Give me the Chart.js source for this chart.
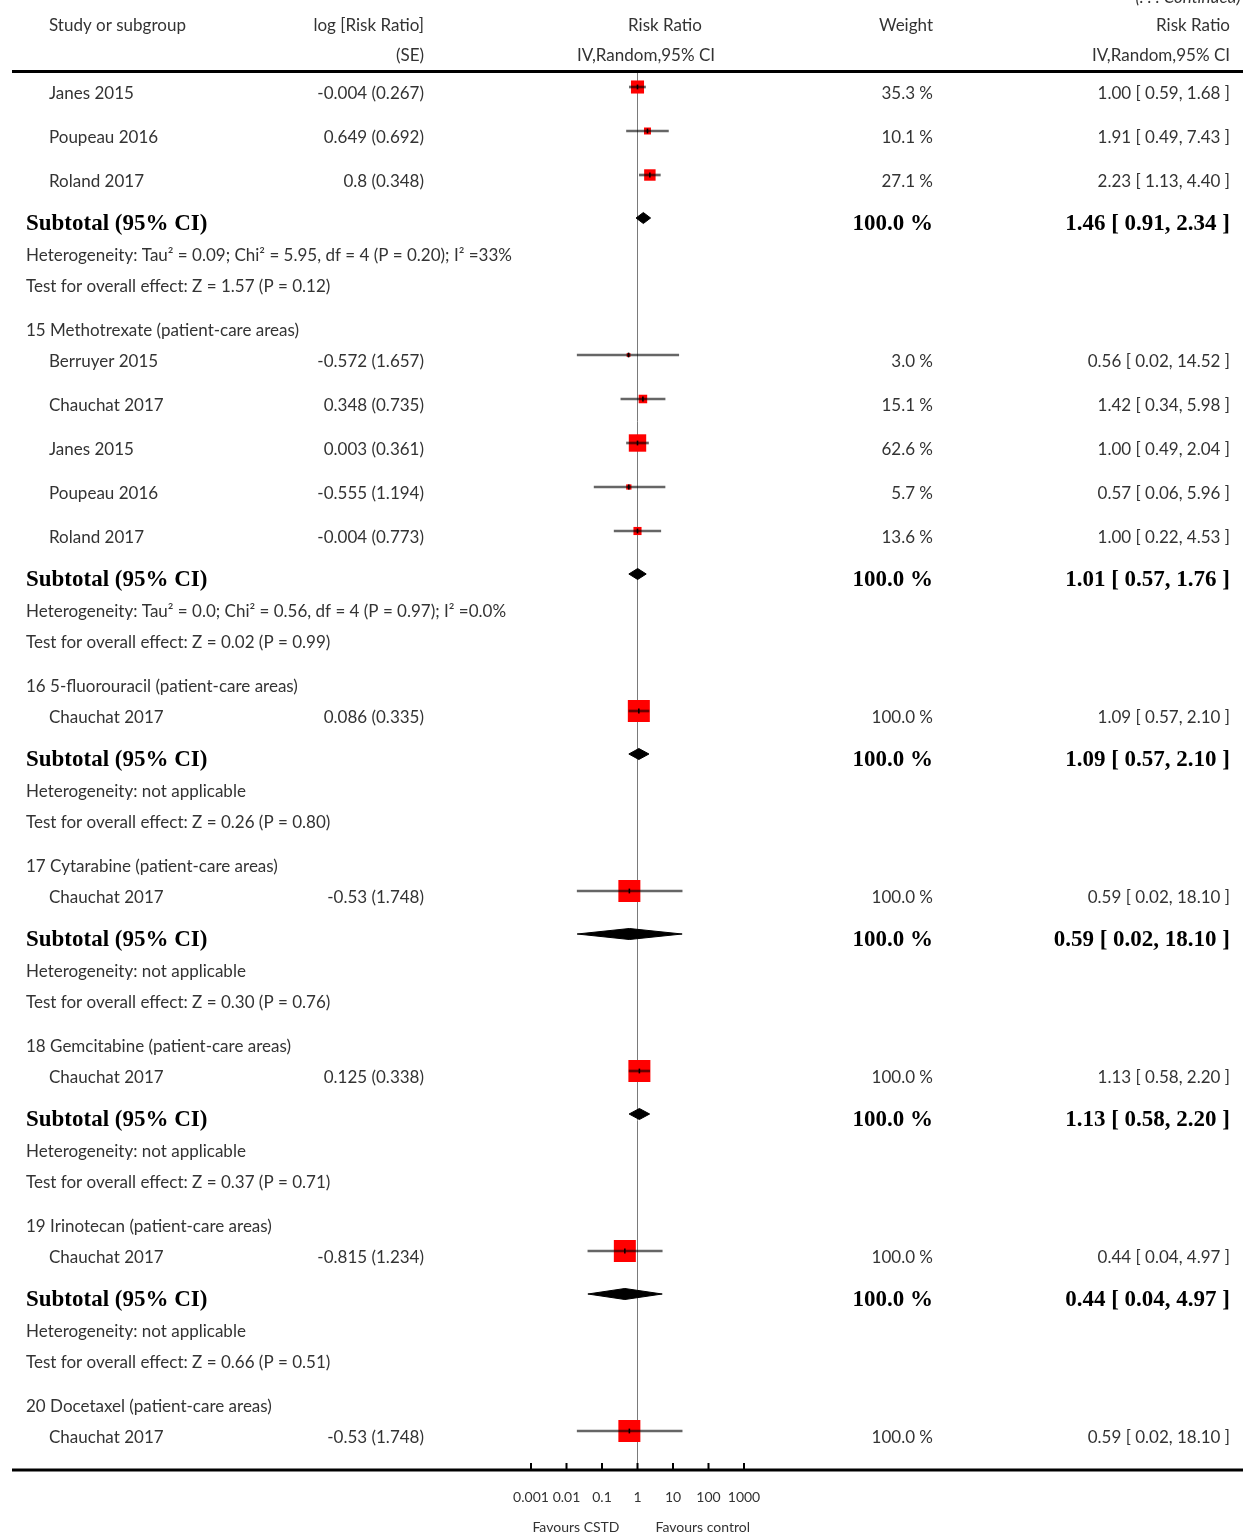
<!DOCTYPE html>
<html>
<head>
<meta charset="utf-8">
<script src="https://cdn.jsdelivr.net/npm/chart.js@4.4.1/dist/chart.umd.min.js"></script>
<style>
  html, body { margin: 0; padding: 0; background: #fff; }
  #wrap { position: relative; width: 1243px; height: 1536px; }
</style>
</head>
<body>
<div id="wrap"><canvas id="forest"></canvas></div>
<script>
// subgroups as printed (the first one continues from the previous page, so no heading)
const groupNames = [
    '',
    '15 Methotrexate (patient-care areas)',
    '16 5-fluorouracil (patient-care areas)',
    '17 Cytarabine (patient-care areas)',
    '18 Gemcitabine (patient-care areas)',
    '19 Irinotecan (patient-care areas)',
    '20 Docetaxel (patient-care areas)'
];

// studies
const studyNames = ['Janes 2015', 'Poupeau 2016', 'Roland 2017',
    'Berruyer 2015', 'Chauchat 2017', 'Janes 2015', 'Poupeau 2016', 'Roland 2017',
    'Chauchat 2017', 'Chauchat 2017', 'Chauchat 2017', 'Chauchat 2017', 'Chauchat 2017'];
const studyGroup = [0, 0, 0, 1, 1, 1, 1, 1, 2, 3, 4, 5, 6];
const logRR = [-0.004, 0.649, 0.8, -0.572, 0.348, 0.003, -0.555, -0.004, 0.086, -0.53, 0.125, -0.815, -0.53];
const seLog = [0.267, 0.692, 0.348, 1.657, 0.735, 0.361, 1.194, 0.773, 0.335, 1.748, 0.338, 1.234, 1.748];
const weights = [35.3, 10.1, 27.1, 3.0, 15.1, 62.6, 5.7, 13.6, 100.0, 100.0, 100.0, 100.0, 100.0];
const rrEst = [1.00, 1.91, 2.23, 0.56, 1.42, 1.00, 0.57, 1.00, 1.09, 0.59, 1.13, 0.44, 0.59];
const rrLow = [0.59, 0.49, 1.13, 0.02, 0.34, 0.49, 0.06, 0.22, 0.57, 0.02, 0.58, 0.04, 0.02];
const rrHigh = [1.68, 7.43, 4.40, 14.52, 5.98, 2.04, 5.96, 4.53, 2.10, 18.10, 2.20, 4.97, 18.10];

// subtotals (group 20 is cut off before its subtotal)
const subEst = [1.46, 1.01, 1.09, 0.59, 1.13, 0.44];
const subLow = [0.91, 0.57, 0.57, 0.02, 0.58, 0.04];
const subHigh = [2.34, 1.76, 2.10, 18.10, 2.20, 4.97];
const hetText = [
    'Heterogeneity: Tau\u00B2 = 0.09; Chi\u00B2 = 5.95, df = 4 (P = 0.20); I\u00B2 =33%',
    'Heterogeneity: Tau\u00B2 = 0.0; Chi\u00B2 = 0.56, df = 4 (P = 0.97); I\u00B2 =0.0%',
    'Heterogeneity: not applicable',
    'Heterogeneity: not applicable',
    'Heterogeneity: not applicable',
    'Heterogeneity: not applicable'
];
const testText = [
    'Test for overall effect: Z = 1.57 (P = 0.12)',
    'Test for overall effect: Z = 0.02 (P = 0.99)',
    'Test for overall effect: Z = 0.26 (P = 0.80)',
    'Test for overall effect: Z = 0.30 (P = 0.76)',
    'Test for overall effect: Z = 0.37 (P = 0.71)',
    'Test for overall effect: Z = 0.66 (P = 0.51)'
];

// axis
const tickValues = [0.001, 0.01, 0.1, 1, 10, 100, 1000];
const tickLabels = ['0.001', '0.01', '0.1', '1', '10', '100', '1000'];

// ---- row layout (vertical spacing of printed lines, in px below the header rule)
const rowGap = { study: 44, subtotal: 42, het: 32, test: 31, group: 44 };
const rows = [];
let cursor = 0;
let prevKind = null;
const pushRow = (kind, extra) => {
    if (prevKind === null) cursor += 20;
    else if (kind === 'study' && prevKind === 'group') cursor += 31;
    else cursor += rowGap[kind];
    rows.push(Object.assign({ kind, pos: cursor }, extra));
    prevKind = kind;
};
groupNames.forEach((name, g) => {
    if (name) pushRow('group', { text: name });
    studyGroup.forEach((sg, i) => { if (sg === g) pushRow('study', { i }); });
    if (g < subEst.length) {
        pushRow('subtotal', { g });
        pushRow('het', { text: hetText[g] });
        pushRow('test', { text: testText[g] });
    }
});
const yMax = cursor + 34;

const studyPos = i => rows.find(r => r.kind === 'study' && r.i === i).pos;
const subPos = g => rows.find(r => r.kind === 'subtotal' && r.g === g).pos;
const markLift = 5;
const diamondLift = 4;
const diamondHalf = 5.5;

// ---- datasets
const tickDs = {
    type: 'scatter',
    data: studyNames.map((n, i) => ({ x: rrEst[i], y: studyPos(i) - markLift })),
    pointStyle: 'line',
    pointRotation: 90,
    pointRadius: 2.4,
    pointBorderColor: '#000',
    pointBorderWidth: 1.6,
    order: 0
};
const ciDs = {
    type: 'bar',
    indexAxis: 'y',
    data: studyNames.map((n, i) => ({ x: [rrLow[i], rrHigh[i]], y: studyPos(i) - markLift })),
    backgroundColor: 'rgba(0,0,0,0.6)',
    borderWidth: 0,
    barThickness: 2,
    order: 1
};
const squareDs = {
    type: 'scatter',
    data: studyNames.map((n, i) => ({ x: rrEst[i], y: studyPos(i) - markLift })),
    pointStyle: 'rect',
    pointRadius: weights.map(w => 22 * Math.sqrt(w / 100) / Math.SQRT2),
    pointBackgroundColor: '#ff0000',
    pointBorderWidth: 0,
    order: 2
};
const diamondDs = subEst.map((est, g) => {
    const p = subPos(g) - diamondLift;
    return {
        type: 'line',
        data: [
            { x: subLow[g], y: p },
            { x: est, y: p - diamondHalf },
            { x: subHigh[g], y: p },
            { x: est, y: p + diamondHalf },
            { x: subLow[g], y: p }
        ],
        tension: 0,
        fill: 'shape',
        backgroundColor: '#000',
        borderColor: '#000',
        borderWidth: 1,
        pointRadius: 0,
        order: 3
    };
});

// ---- text columns and rules
const bodyFont = '17px Lato';
const boldFont = 'bold 23px "Liberation Serif"';
const textColor = '#333';
const textDrop = 2;

const forestText = {
    id: 'forestText',
    beforeDatasetsDraw(chart) {
        const { ctx, chartArea, scales: { x } } = chart;
        const x1 = Math.floor(x.getPixelForValue(1)) + 0.5;
        ctx.save();
        ctx.strokeStyle = '#7a7a7a';
        ctx.lineWidth = 1;
        ctx.beginPath();
        ctx.moveTo(x1, chartArea.top);
        ctx.lineTo(x1, chartArea.bottom);
        ctx.stroke();
        ctx.restore();
    },
    afterDraw(chart) {
        const { ctx, chartArea, scales: { x, y } } = chart;
        const put = (txt, px, py, align, font, color) => {
            ctx.font = font || bodyFont;
            ctx.fillStyle = color || textColor;
            ctx.textAlign = align || 'left';
            ctx.fillText(txt, px, py);
        };
        ctx.save();
        ctx.textBaseline = 'middle';

        // header
        const h1 = y.getPixelForValue(-48) + textDrop, h2 = y.getPixelForValue(-18) + textDrop;
        put('Study or subgroup', 49, h1);
        put('log [Risk Ratio]', 424, h1, 'right');
        put('(SE)', 424, h2, 'right');
        put('Risk Ratio', 665, h1, 'center');
        put('IV,Random,95% CI', 646, h2, 'center');
        put('Weight', 933, h1, 'right');
        put('Risk Ratio', 1230, h1, 'right');
        put('IV,Random,95% CI', 1230, h2, 'right');
        ctx.textBaseline = 'alphabetic';
        put('(. . . Continued)', 1241, 3, 'right', 'italic 17px Lato');
        ctx.textBaseline = 'middle';

        // rows
        rows.forEach(r => {
            const py = y.getPixelForValue(r.pos) + textDrop;
            if (r.kind === 'study') {
                const i = r.i;
                put(studyNames[i], 49, py);
                put(logRR[i] + ' (' + seLog[i] + ')', 424, py, 'right');
                put(weights[i].toFixed(1) + ' %', 933, py, 'right');
                put(rrEst[i].toFixed(2) + ' [ ' + rrLow[i].toFixed(2) + ', ' + rrHigh[i].toFixed(2) + ' ]', 1230, py, 'right');
            } else if (r.kind === 'subtotal') {
                const g = r.g;
                put('Subtotal (95% CI)', 26, py, 'left', boldFont, '#000');
                put('100.0 %', 933, py, 'right', boldFont, '#000');
                put(subEst[g].toFixed(2) + ' [ ' + subLow[g].toFixed(2) + ', ' + subHigh[g].toFixed(2) + ' ]', 1230, py, 'right', boldFont, '#000');
            } else {
                put(r.text, 26, py);
            }
        });

        // header and footer rules
        ctx.fillStyle = '#000';
        ctx.fillRect(12, chartArea.top - 2, 1231, 3);
        ctx.fillRect(12, chartArea.bottom - 1.5, 1231, 3);

        // axis tick marks (pointing up)
        tickValues.forEach(v => {
            const tx = x.getPixelForValue(v);
            ctx.fillRect(tx - 1, chartArea.bottom - 7, 2, 7);
        });

        // axis captions
        const x1 = x.getPixelForValue(1);
        const fy = chartArea.bottom + 57;
        put('Favours CSTD', x1 - 18, fy, 'right', '14px Lato');
        put('Favours control', x1 + 18, fy, 'left', '14px Lato');
        ctx.restore();
    }
};

new Chart(document.getElementById('forest'), {
    type: 'scatter',
    data: { datasets: [tickDs, ciDs, squareDs, ...diamondDs] },
    options: {
        responsive: true,
        maintainAspectRatio: false,
        animation: false,
        layout: { padding: { left: 531, right: 499, top: 72, bottom: 0 } },
        plugins: { legend: { display: false }, tooltip: { enabled: false } },
        scales: {
            x: {
                type: 'logarithmic',
                min: 0.001,
                max: 1000,
                offset: false,
                border: { display: false },
                grid: { display: false },
                afterBuildTicks: s => { s.ticks = tickValues.map(v => ({ value: v })); },
                afterFit: s => { s.height = 66; },
                ticks: {
                    autoSkip: false,
                    maxRotation: 0,
                    padding: 11,
                    color: textColor,
                    font: { family: 'Lato', size: 14 },
                    callback: (v, i) => tickLabels[i]
                }
            },
            y: {
                type: 'linear',
                min: 0,
                max: yMax,
                reverse: true,
                offset: false,
                display: false
            }
        }
    },
    plugins: [forestText]
});
</script>
</body>
</html>
